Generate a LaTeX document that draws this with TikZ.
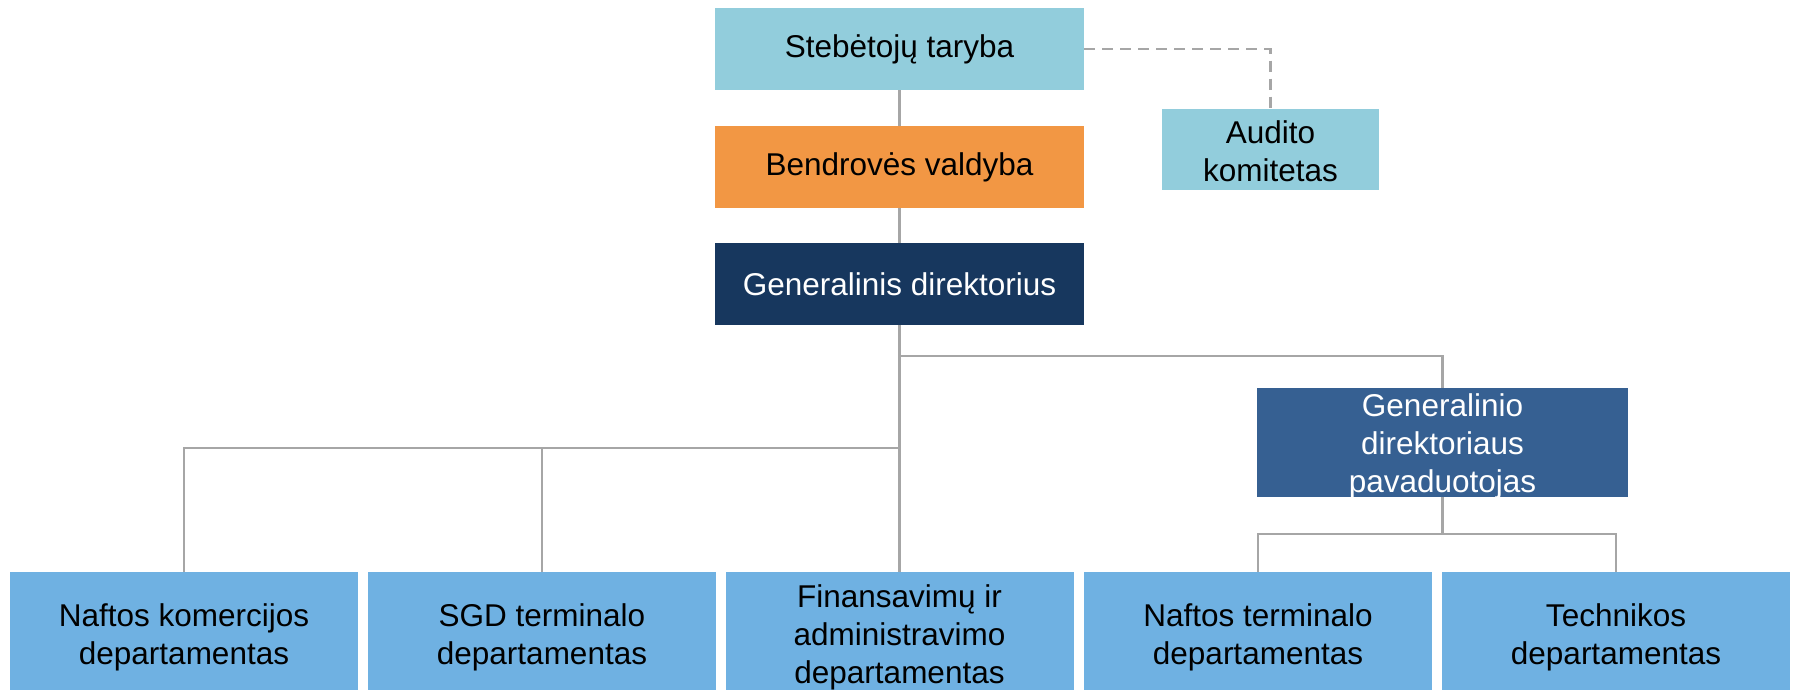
\documentclass[tikz,border=0pt]{standalone}
\usepackage{fontspec}
\setmainfont{Liberation Sans}
\definecolor{aqua}{HTML}{92CDDC}
\definecolor{orng}{HTML}{F29744}
\definecolor{navy}{HTML}{17375E}
\definecolor{steel}{HTML}{366092}
\definecolor{dept}{HTML}{6FB1E2}
\definecolor{linegray}{HTML}{A6A6A6}
\begin{document}
\begin{tikzpicture}[x=1pt,y=-1pt,
  box/.style={inner sep=0pt, align=center, font=\fontsize{31.5}{38}\selectfont},
  topbox/.style={box, minimum width=369pt, minimum height=82pt},
  deptbox/.style={box, fill=dept, minimum width=348pt, minimum height=130pt},
  conn/.style={draw=linegray, line width=2.4pt},
  dashconn/.style={draw=linegray, line width=2.2pt, dash pattern=on 11pt off 7pt}]
\useasboundingbox (0,0) rectangle (1793,689);
\clip (0,0) rectangle (1793,689);
% coordinates for bus levels
\coordinate (busA) at (0,356);
\coordinate (busB) at (0,448);
\coordinate (busC) at (0,534);
% nodes
\node[topbox, fill=aqua] (st) at (899.5,49) {Stebėtojų taryba};
\node[topbox, fill=orng] (bv) at (899.5,167) {Bendrovės valdyba};
\node[topbox, fill=navy, text=white] (gd) at (899.5,284) {Generalinis direktorius};
\node[box, fill=aqua, minimum width=217pt, minimum height=81pt] (au) at (1270.5,149.5) {\rule{0pt}{27pt}Audito\\komitetas};
\node[box, fill=steel, minimum width=371pt, minimum height=109pt,
  label={[box, text=white, yshift=-4pt]center:Generalinio\\direktoriaus\\pavaduotojas}] (dep) at (1442.5,442.5) {};
\node[deptbox] (d1) at (184,637) {Naftos komercijos\\departamentas};
\node[deptbox] (d2) at (542,637) {SGD terminalo\\departamentas};
\node[deptbox] (d3) at (899.5,637) {Finansavimų ir\\administravimo\\departamentas};
\node[deptbox] (d4) at (1258,637) {Naftos terminalo\\departamentas};
\node[deptbox] (d5) at (1616,637) {Technikos\\departamentas};
% connectors
\draw[dashconn] (st.east) -| (au.north);
\draw[conn] (st.south) -- (bv.north);
\draw[conn] (bv.south) -- (gd.north);
\draw[conn] (gd.south) -- (d3.north);
\draw[conn] (gd.south) |- (dep.north |- busA) -- (dep.north);
\draw[conn] (gd.south) |- (d1.north |- busB) -- (d1.north);
\draw[conn] (d2.north |- busB) -- (d2.north);
\draw[conn] (dep.south) |- (d4.north |- busC) -- (d4.north);
\draw[conn] (dep.south) |- (d5.north |- busC) -- (d5.north);
\end{tikzpicture}
\end{document}
